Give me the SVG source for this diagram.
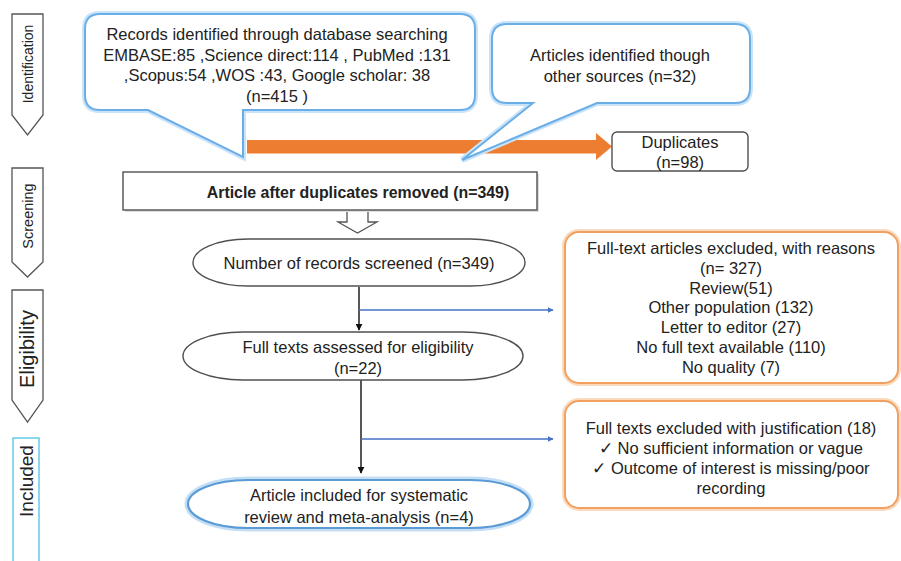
<svg xmlns="http://www.w3.org/2000/svg" width="901" height="561" viewBox="0 0 901 561">
<defs>
<style>
text{font-family:"Liberation Sans",Arial,sans-serif;font-size:16.5px;fill:#222;text-anchor:middle;dominant-baseline:central}
.stage{fill:#fff;stroke:#555;stroke-width:1.3}
.blueglow{fill:none;stroke:#c9e3f8;stroke-width:6}
.blue{fill:#fff;stroke:#6aaee8;stroke-width:2}
.orglow{fill:none;stroke:#fbd9bd;stroke-width:6}
.org{fill:#fff;stroke:#f0a060;stroke-width:2}
.gray{fill:#fff;stroke:#505050;stroke-width:1.4}
.flow{stroke:#111;stroke-width:1.4;fill:none}
.side{stroke:#4472c4;stroke-width:1.3;fill:none}
</style>
<marker id="ab" viewBox="0 0 10 10" refX="9" refY="5" markerWidth="7" markerHeight="7" orient="auto" markerUnits="userSpaceOnUse"><path d="M0,0 L10,5 L0,10 Z" fill="#111"/></marker>
<marker id="abl" viewBox="0 0 10 10" refX="9" refY="5" markerWidth="6" markerHeight="6" orient="auto" markerUnits="userSpaceOnUse"><path d="M0,0 L10,5 L0,10 Z" fill="#4472c4"/></marker>
</defs>
<rect width="901" height="561" fill="#fff"/>

<g id="stage-identification">
<path class="stage" d="M12,14 H43 V115 L27.5,135 L12,115 Z"/>
<text x="28" y="64" style="font-size:14px" transform="rotate(-90 28 64)">Identification</text>
</g>
<g id="stage-screening">
<path class="stage" d="M12,168 H43 V262 L27.5,277 L12,262 Z"/>
<text x="28" y="216" style="font-size:14.5px" transform="rotate(-90 28 216)">Screening</text>
</g>
<g id="stage-eligibility">
<path class="stage" d="M12,290 H43 V400 L27.5,422 L12,400 Z"/>
<text x="27" y="349" style="font-size:20px" transform="rotate(-90 27 349)">Eligibility</text>
</g>
<g id="stage-included">
<rect x="13" y="438" width="26" height="130" fill="#fff" stroke="#4bc4e0" stroke-width="1.3"/>
<text x="26" y="481" style="font-size:19px" transform="rotate(-90 26 481)">Included</text>
</g>

<g id="connectors">
<rect x="247" y="140" width="350" height="13.5" fill="#ed7d31"/>
<path d="M596,133 L612,146.5 L596,160 Z" fill="#ed7d31"/>
<path d="M347,210 H368 V222 H377 L357.5,233 L338,222 H347 Z" fill="#fff" stroke="#555" stroke-width="1.3"/>
<line class="flow" x1="359" y1="287" x2="359" y2="330" marker-end="url(#ab)"/>
<line class="side" x1="359" y1="310" x2="553" y2="310" marker-end="url(#abl)"/>
<line class="flow" x1="361" y1="380" x2="361" y2="473" marker-end="url(#ab)"/>
<line class="side" x1="361" y1="439" x2="553" y2="439" marker-end="url(#abl)"/>
</g>

<g id="node-database">
<path class="blueglow" d="M100,14 H460 Q475,14 475,29 V95 Q475,110 460,110 H243 V157 L148,110 H100 Q85,110 85,95 V29 Q85,14 100,14 Z"/>
<path class="blue" d="M100,14 H460 Q475,14 475,29 V95 Q475,110 460,110 H243 V157 L148,110 H100 Q85,110 85,95 V29 Q85,14 100,14 Z"/>
<text x="277" y="34">Records identified through database searching</text>
<text x="277" y="54.5">EMBASE:85 ,Science direct:114 , PubMed :131</text>
<text x="277" y="75">,Scopus:54 ,WOS :43, Google scholar: 38</text>
<text x="277" y="96">(n=415 )</text>
</g>

<g id="node-other">
<path class="blueglow" d="M507,24 H735 Q750,24 750,39 V88 Q750,103 735,103 H597 L462,160 L533,103 H507 Q492,103 492,88 V39 Q492,24 507,24 Z"/>
<path class="blue" d="M507,24 H735 Q750,24 750,39 V88 Q750,103 735,103 H597 L462,160 L533,103 H507 Q492,103 492,88 V39 Q492,24 507,24 Z"/>
<text x="620" y="55">Articles identified though</text>
<text x="620" y="76">other sources (n=32)</text>
</g>

<g id="node-duplicates">
<rect class="gray" x="612" y="132" width="136" height="39" rx="5"/>
<text x="680" y="142">Duplicates</text>
<text x="680" y="162">(n=98)</text>
</g>

<g id="node-after">
<rect x="125" y="174" width="414" height="38" fill="#ddd"/>
<rect class="gray" x="123" y="172" width="414" height="38"/>
<text x="358" y="192" font-weight="bold" style="font-size:15.9px">Article after duplicates removed (n=349)</text>
</g>

<g id="node-screened">
<rect class="gray" x="193" y="239" width="332" height="47" rx="55" ry="23.5"/>
<text x="359" y="263">Number of records screened (n=349)</text>
</g>

<g id="node-excluded">
<rect class="orglow" x="565" y="232" width="333" height="151" rx="14"/>
<rect class="org" x="565" y="232" width="333" height="151" rx="14"/>
<text x="731" y="248">Full-text articles excluded, with reasons</text>
<text x="731" y="268">(n= 327)</text>
<text x="731" y="287.5">Review(51)</text>
<text x="731" y="307">Other population (132)</text>
<text x="731" y="327">Letter to editor (27)</text>
<text x="731" y="347">No full text available (110)</text>
<text x="731" y="366.5">No quality (7)</text>
</g>

<g id="node-assessed">
<rect class="gray" x="183" y="332" width="340" height="48" rx="60" ry="24"/>
<text x="358" y="347">Full texts assessed for eligibility</text>
<text x="358" y="368">(n=22)</text>
</g>

<g id="node-justification">
<rect class="orglow" x="565" y="401" width="333" height="107" rx="14"/>
<rect class="org" x="565" y="401" width="333" height="107" rx="14"/>
<text x="731" y="428">Full texts excluded with justification (18)</text>
<text x="731" y="447.5">✓ No sufficient information or vague</text>
<text x="731" y="467.5">✓ Outcome of interest is missing/poor</text>
<text x="731" y="488">recording</text>
</g>

<g id="node-included">
<rect x="188" y="480" width="342" height="48" rx="60" ry="24" fill="none" stroke="#c4def5" stroke-width="7"/>
<rect x="188" y="480" width="342" height="48" rx="60" ry="24" fill="#fff" stroke="#5b9bd5" stroke-width="2.2"/>
<text x="359" y="495">Article included for systematic</text>
<text x="359" y="517">review and meta-analysis (n=4)</text>
</g>
</svg>
